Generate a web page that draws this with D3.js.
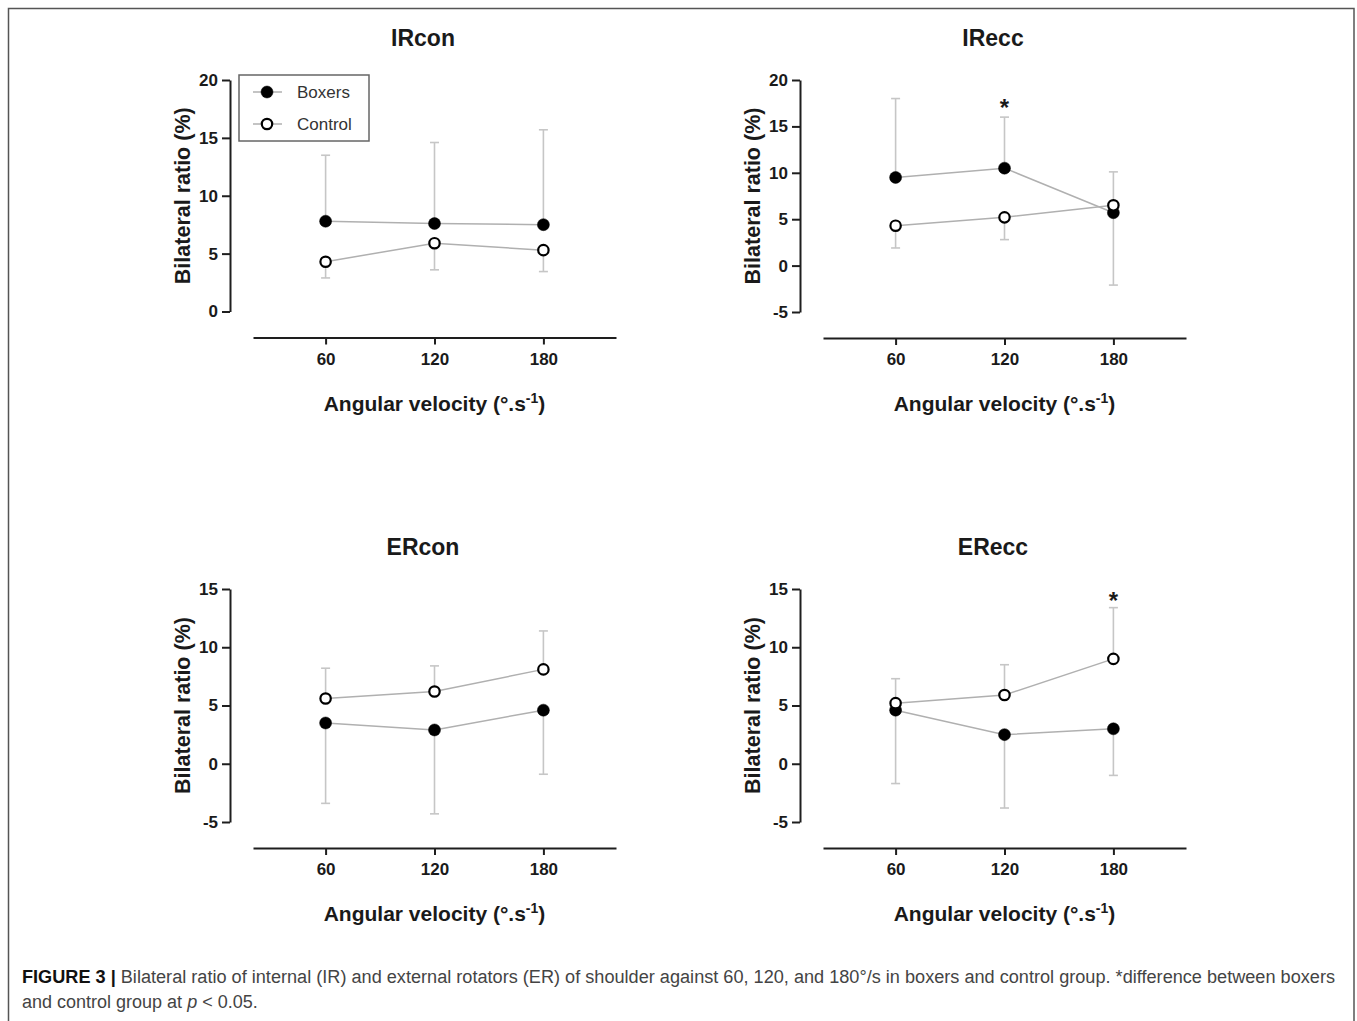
<!DOCTYPE html>
<html>
<head>
<meta charset="utf-8">
<script src="https://cdn.jsdelivr.net/npm/d3@7/dist/d3.min.js"></script>
<style>
  html, body { margin: 0; padding: 0; background: #fff; }
  svg { display: block; }
</style>
</head>
<body>
<svg id="chart" width="1357" height="1021"></svg>
<script>
// ---------------- data ----------------
const velocities = [60, 120, 180];
const seriesNames = ["Boxers", "Control"];

const irconBoxers = [7.8, 7.6, 7.5];
const irconBoxersErr = [13.5, 14.6, 15.7];
const irconControl = [4.3, 5.9, 5.3];
const irconControlErr = [2.9, 3.6, 3.45];

const ireccBoxers = [9.5, 10.5, 5.7];
const ireccBoxersErr = [18.0, 16.0, -2.1];
const ireccControl = [4.3, 5.2, 6.5];
const ireccControlErr = [1.9, 2.8, 10.1];

const erconBoxers = [3.5, 2.9, 4.6];
const erconBoxersErr = [-3.4, -4.3, -0.9];
const erconControl = [5.6, 6.2, 8.1];
const erconControlErr = [8.2, 8.4, 11.4];

const ereccBoxers = [4.6, 2.5, 3.0];
const ereccBoxersErr = [-1.7, -3.8, -1.0];
const ereccControl = [5.2, 5.9, 9.0];
const ereccControlErr = [7.3, 8.5, 13.4];

const ticksTop = [0, 5, 10, 15, 20];
const ticksIRecc = [-5, 0, 5, 10, 15, 20];
const ticksBottom = [-5, 0, 5, 10, 15];

const ireccStars = [{ x: 120, y: 17.5 }];
const ereccStars = [{ x: 180, y: 14.4 }];

const panelTitles = ["IRcon", "IRecc", "ERcon", "ERecc"];
const yAxisTitle = "Bilateral ratio (%)";
const xDomain = [20, 220];

// ---------------- layout ----------------
const svg = d3.select("#chart");
const font = "'Liberation Sans', Arial, sans-serif";

svg.append("rect")
  .attr("x", 8.5).attr("y", 8.5)
  .attr("width", 1345.5).attr("height", 1030)
  .attr("fill", "none").attr("stroke", "#555").attr("stroke-width", 1.5);

const panels = [
  { title: panelTitles[0], axisX: 230, yTop: 80, yBot: 311.5, yDomain: [0, 20], yTicks: ticksTop,
    boxers: irconBoxers, boxersErr: irconBoxersErr, control: irconControl, controlErr: irconControlErr, stars: [], legend: true },
  { title: panelTitles[1], axisX: 800, yTop: 80, yBot: 312, yDomain: [-5, 20], yTicks: ticksIRecc,
    boxers: ireccBoxers, boxersErr: ireccBoxersErr, control: ireccControl, controlErr: ireccControlErr, stars: ireccStars },
  { title: panelTitles[2], axisX: 230, yTop: 589, yBot: 822, yDomain: [-5, 15], yTicks: ticksBottom,
    boxers: erconBoxers, boxersErr: erconBoxersErr, control: erconControl, controlErr: erconControlErr, stars: [] },
  { title: panelTitles[3], axisX: 800, yTop: 589, yBot: 822, yDomain: [-5, 15], yTicks: ticksBottom,
    boxers: ereccBoxers, boxersErr: ereccBoxersErr, control: ereccControl, controlErr: ereccControlErr, stars: ereccStars }
];

const lineColor = "#b0b0b0";
const errColor = "#c6c6c6";
const axisColor = "#1e1e1e";

panels.forEach(p => {
  const g = svg.append("g");
  const xStart = p.axisX + 23, xEnd = p.axisX + 386;
  const x = d3.scaleLinear().domain(xDomain).range([xStart, xEnd]);
  const y = d3.scaleLinear().domain(p.yDomain).range([p.yBot, p.yTop]);
  const xAxisY = p.yBot + 26;

  // title
  g.append("text")
    .attr("x", (p.axisX + xEnd) / 2).attr("y", p.yTop - 34)
    .attr("text-anchor", "middle")
    .attr("font-family", font).attr("font-weight", "bold").attr("font-size", 23)
    .attr("fill", "#1a1a1a")
    .text(p.title);

  // y axis
  const yAxis = g.append("g")
    .attr("transform", `translate(${p.axisX},0)`)
    .call(d3.axisLeft(y).tickValues(p.yTicks).tickFormat(d => String(d))
      .tickSize(8).tickSizeOuter(0).tickPadding(4));
  yAxis.select(".domain").attr("stroke", axisColor).attr("stroke-width", 2);
  yAxis.selectAll(".tick line").attr("stroke", axisColor).attr("stroke-width", 2);
  yAxis.selectAll(".tick text")
    .attr("font-family", font).attr("font-weight", "bold").attr("font-size", 17)
    .attr("fill", "#1a1a1a");

  // x axis
  const xAxis = g.append("g")
    .attr("transform", `translate(0,${xAxisY})`)
    .call(d3.axisBottom(x).tickValues(velocities).tickFormat(d => String(d))
      .tickSize(7).tickSizeOuter(0).tickPadding(8));
  xAxis.select(".domain").attr("stroke", axisColor).attr("stroke-width", 2);
  xAxis.selectAll(".tick line").attr("stroke", axisColor).attr("stroke-width", 2);
  xAxis.selectAll(".tick text")
    .attr("font-family", font).attr("font-weight", "bold").attr("font-size", 17)
    .attr("fill", "#1a1a1a");

  // x axis title
  const xt = g.append("text")
    .attr("x", (xStart + xEnd) / 2).attr("y", xAxisY + 73)
    .attr("text-anchor", "middle")
    .attr("font-family", font).attr("font-weight", "bold").attr("font-size", 21)
    .attr("fill", "#1a1a1a");
  xt.append("tspan").text("Angular velocity (\u00B0.s");
  xt.append("tspan").attr("font-size", 14).attr("dy", -8).text("-1");
  xt.append("tspan").attr("dy", 8).text(")");

  // y axis title
  g.append("text")
    .attr("transform", `translate(${p.axisX - 40},${(p.yTop + p.yBot) / 2}) rotate(-90)`)
    .attr("text-anchor", "middle")
    .attr("font-family", font).attr("font-weight", "bold").attr("font-size", 21.5)
    .attr("fill", "#1a1a1a")
    .text(yAxisTitle);

  const series = [
    { name: seriesNames[0], vals: p.boxers, err: p.boxersErr, filled: true },
    { name: seriesNames[1], vals: p.control, err: p.controlErr, filled: false }
  ];

  const line = d3.line().x((d, i) => x(velocities[i])).y(d => y(d));

  series.forEach(s => {
    g.append("path").datum(s.vals)
      .attr("d", line).attr("fill", "none")
      .attr("stroke", lineColor).attr("stroke-width", 1.5);
  });

  series.forEach(s => {
    const eg = g.append("g");
    eg.selectAll("line.stem").data(s.vals).enter().append("line")
      .attr("x1", (d, i) => x(velocities[i])).attr("x2", (d, i) => x(velocities[i]))
      .attr("y1", d => y(d)).attr("y2", (d, i) => y(s.err[i]))
      .attr("stroke", errColor).attr("stroke-width", 1.6);
    eg.selectAll("line.cap").data(s.err).enter().append("line")
      .attr("x1", (d, i) => x(velocities[i]) - 4.5).attr("x2", (d, i) => x(velocities[i]) + 4.5)
      .attr("y1", d => y(d)).attr("y2", d => y(d))
      .attr("stroke", errColor).attr("stroke-width", 1.6);
  });

  series.forEach(s => {
    g.selectAll(null).data(s.vals).enter().append("circle")
      .attr("cx", (d, i) => x(velocities[i])).attr("cy", d => y(d))
      .attr("r", s.filled ? 6 : 5.2)
      .attr("fill", s.filled ? "#000" : "#fff")
      .attr("stroke", "#000").attr("stroke-width", s.filled ? 0.5 : 2.2);
  });

  // significance stars
  g.selectAll(null).data(p.stars).enter().append("text")
    .attr("x", d => x(d.x)).attr("y", d => y(d.y) + 13)
    .attr("text-anchor", "middle")
    .attr("font-family", font).attr("font-weight", "bold").attr("font-size", 24)
    .attr("fill", "#1a1a1a")
    .text("*");

  // legend
  if (p.legend) {
    const lg = g.append("g");
    lg.append("rect").attr("x", 239).attr("y", 75).attr("width", 130).attr("height", 66)
      .attr("fill", "#fff").attr("stroke", "#666").attr("stroke-width", 1.5);
    series.forEach((s, i) => {
      const cy = 92 + i * 32;
      lg.append("line").attr("x1", 253).attr("x2", 282).attr("y1", cy).attr("y2", cy)
        .attr("stroke", lineColor).attr("stroke-width", 1.5);
      lg.append("circle").attr("cx", 267).attr("cy", cy)
        .attr("r", s.filled ? 6 : 5.2)
        .attr("fill", s.filled ? "#000" : "#fff")
        .attr("stroke", "#000").attr("stroke-width", s.filled ? 0.5 : 2.2);
      lg.append("text").attr("x", 297).attr("y", cy + 6)
        .attr("font-family", font).attr("font-size", 17).attr("fill", "#333")
        .text(s.name);
    });
  }
});

// caption
const capFont = "'Liberation Sans', Arial, sans-serif";
const cap1 = svg.append("text").attr("x", 22).attr("y", 983)
  .attr("font-family", capFont).attr("font-size", 18).attr("fill", "#444")
  .attr("textLength", 1313).attr("lengthAdjust", "spacingAndGlyphs");
cap1.append("tspan").attr("font-weight", "bold").attr("fill", "#111").text("FIGURE 3 | ");
cap1.append("tspan").text("Bilateral ratio of internal (IR) and external rotators (ER) of shoulder against 60, 120, and 180\u00B0/s in boxers and control group. *difference between boxers");
const cap2 = svg.append("text").attr("x", 22).attr("y", 1008)
  .attr("font-family", capFont).attr("font-size", 18).attr("fill", "#444");
cap2.append("tspan").text("and control group at ");
cap2.append("tspan").attr("font-style", "italic").text("p");
cap2.append("tspan").text(" < 0.05.");
</script>
</body>
</html>
